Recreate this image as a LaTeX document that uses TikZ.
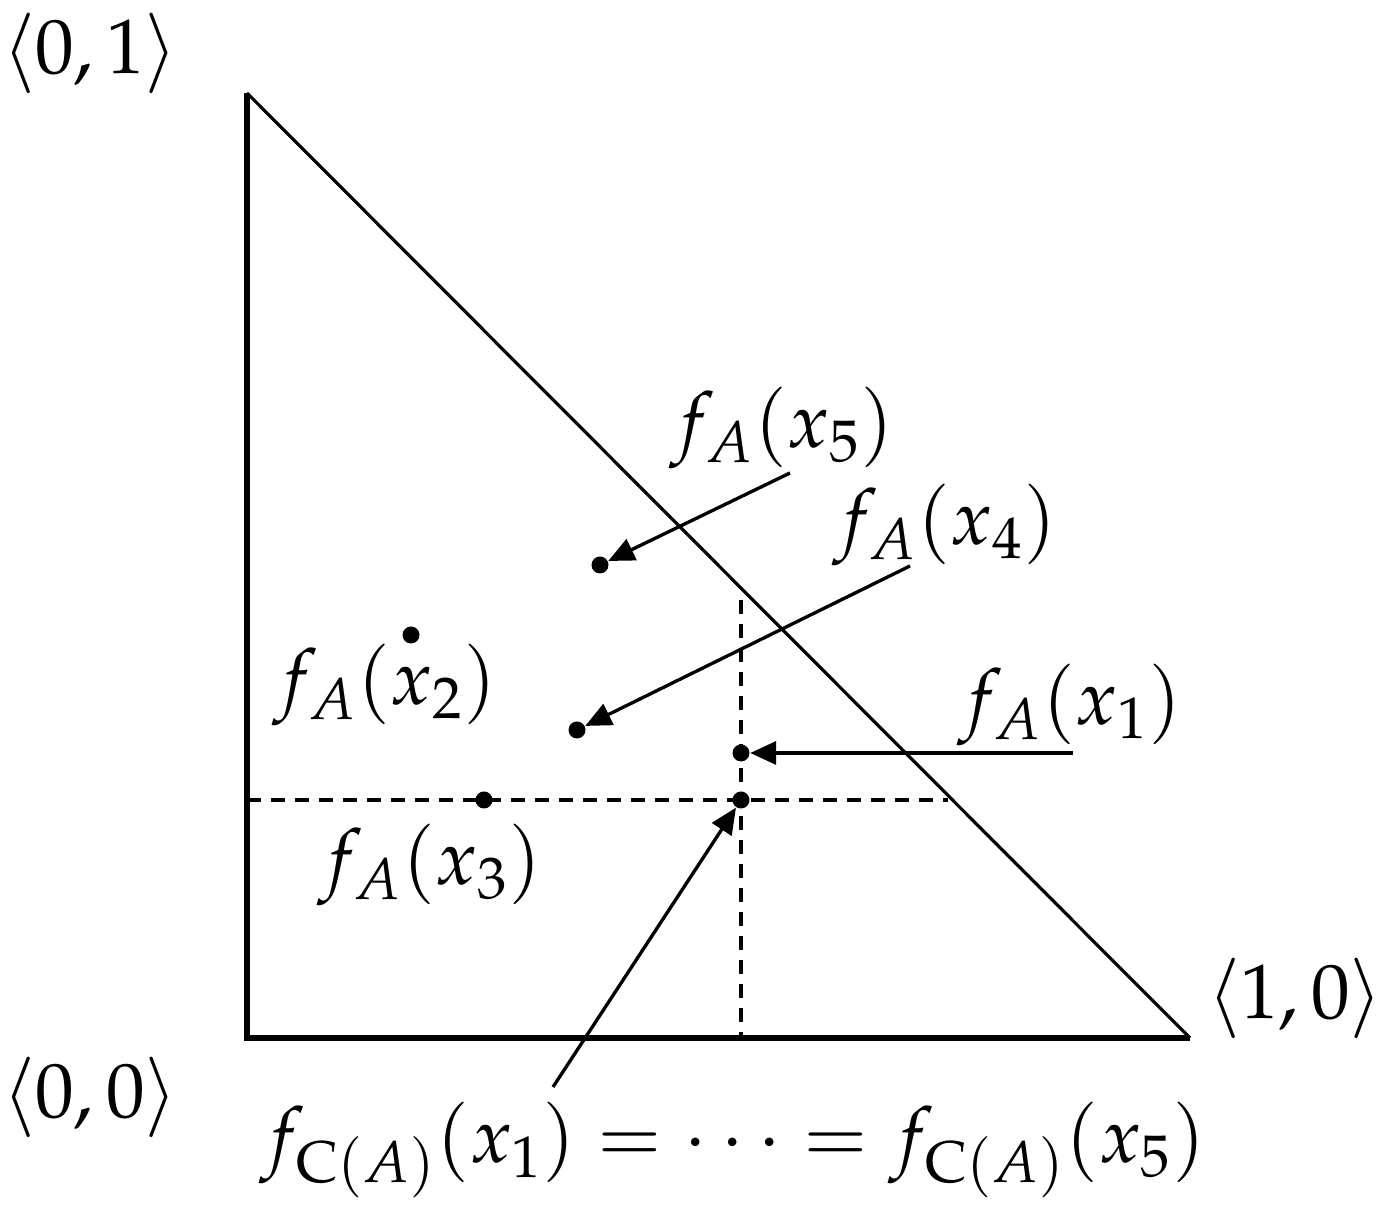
\documentclass[tikz,border=0pt]{standalone}
\usepackage{mathpazo}
\usetikzlibrary{arrows.meta}
\tikzset{
  pt/.style={circle, fill=black, inner sep=0pt, minimum size=0.17cm},
  lbl/.style={font=\fontsize{22}{26}\selectfont},
  ptr/.style={line width=0.95pt, -{Triangle[length=0.26cm, width=0.23cm]}},
  guide/.style={line width=1.2pt, dash pattern=on 0.14cm off 0.1cm}
}
\begin{document}
\begin{tikzpicture}
\useasboundingbox (0,0) rectangle (13.87,12.15);
% corners of the triangle
\coordinate (top) at (2.47,11.22);
\coordinate (orig) at (2.47,1.77);
\coordinate (right) at (11.90,1.77);
\draw[line width=1.8pt] (top) -- (orig) -- (right);
\draw[line width=0.9pt] (top) -- (right);
\node[lbl] (l01) at (0.90,11.62) {$\langle 0,1\rangle$};
\node[lbl] (l00) at (0.90,1.18) {$\langle 0,0\rangle$};
\node[lbl] (l10) at (12.95,2.17) {$\langle 1,0\rangle$};
% dashed guides
\draw[guide] (2.47,4.15) -- (9.48,4.15);
\draw[guide] (7.41,6.15) -- (7.41,1.77);
% points
\node[pt] (p5) at (6.00,6.50) {};
\node[pt] (p2) at (4.11,5.80) {};
\node[pt] (p4) at (5.77,4.85) {};
\node[pt] (p1) at (7.41,4.62) {};
\node[pt] (pc) at (7.41,4.15) {};
\node[pt] (p3) at (4.84,4.15) {};
% labels
\node[lbl] (f5) at (7.82,7.87) {$f_A(x_5)$};
\node[lbl] (f4) at (9.45,6.90) {$f_A(x_4)$};
\node[lbl] (f2) at (3.85,5.30) {$f_A(x_2)$};
\node[lbl] (f1) at (10.70,5.10) {$f_A(x_1)$};
\node[lbl] (f3) at (4.30,3.50) {$f_A(x_3)$};
\node[lbl] (fc) at (7.33,0.65) {$f_{\mathrm{C}(A)}(x_1)=\cdots=f_{\mathrm{C}(A)}(x_5)$};
% arrows
\coordinate (t5) at (7.90,7.42);
\coordinate (t4) at (9.10,6.49);
\coordinate (t1) at (10.73,4.62);
\coordinate (tc) at (5.53,1.28);
\draw[ptr] (t5) -- (p5);
\draw[ptr] (t4) -- (p4);
\draw[ptr] (t1) -- (p1);
\draw[ptr] (tc) -- (pc);
\end{tikzpicture}
\end{document}
